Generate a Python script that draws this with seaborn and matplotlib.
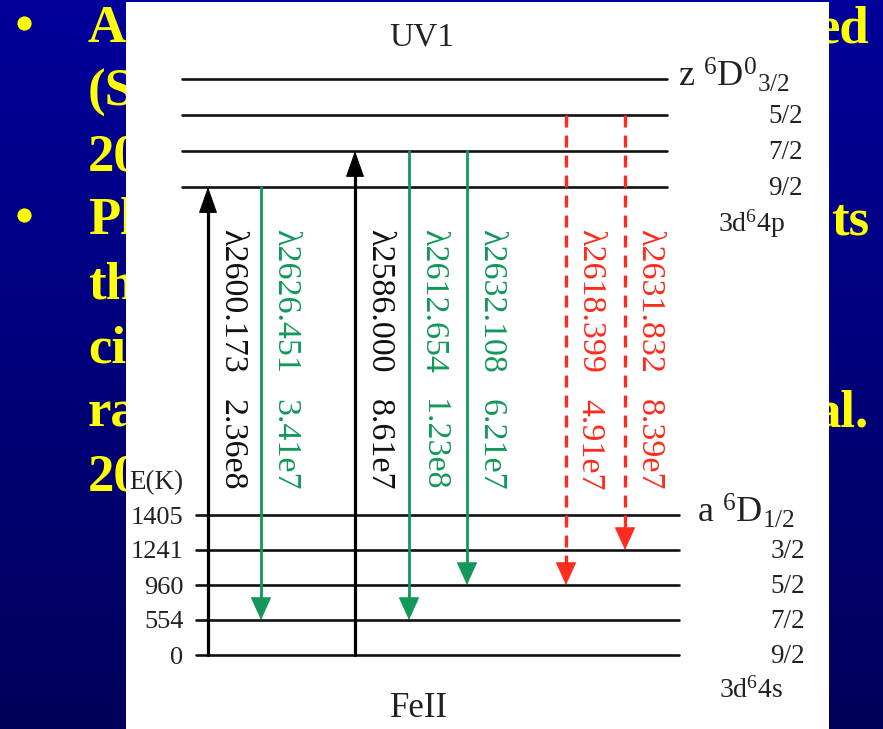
import numpy as np
import pandas as pd
import matplotlib
matplotlib.use("Agg")
import matplotlib.pyplot as plt
import matplotlib.transforms as mtransforms
from matplotlib.patches import Rectangle
import seaborn as sns

# ---- Fe II UV1 multiplet: levels ----
lower_J = ["9/2", "7/2", "5/2", "3/2", "1/2"]          # a 6D (3d6 4s)
lower_E = ["0", "554", "960", "1241", "1405"]           # energy in K
upper_J = ["9/2", "7/2", "5/2", "3/2"]                 # z 6D0 (3d6 4p)

# ---- transitions ----
wavelengths = ["2600.173", "2626.451", "2586.000", "2612.654",
               "2632.108", "2618.399", "2631.832"]
a_values = ["2.36e8", "3.41e7", "8.61e7", "1.23e8", "6.21e7", "4.91e7", "8.39e7"]
trans_lower = ["9/2", "7/2", "9/2", "7/2", "5/2", "5/2", "3/2"]
trans_upper = ["9/2", "9/2", "7/2", "7/2", "7/2", "5/2", "5/2"]
trans_kind = ["resonance", "fluorescent", "resonance", "fluorescent",
              "fluorescent", "fine-structure", "fine-structure"]

# ---- slide text around the figure ----
slide_left = ["A", "(S", "20", "Pl", "th", "ci", "ra", "20"]
slide_right = ["ed", "", "", "ts", "", "", "al.", ""]
slide_bullet = [True, False, False, True, False, False, False, False]

# ---- layout (pixels) ----
W, H = 883, 729
PX_PER_SLOT = 35.0
Y0_PX = 655.0                      # pixel row of the ground level
lower_slot = [0, 1, 2, 3, 4]
upper_slot = [13.37, 14.4, 15.43, 16.46]
lower_x = (196, 679)
upper_x = (182, 667)
arrow_x = [208, 261, 355, 409, 467, 566, 625]
label_dx = 24
label_top_px = 229
value_top_px = 399

kind_color = {"resonance": "#000000", "fluorescent": "#13985a", "fine-structure": "#ff2b1c"}
kind_lw = {"resonance": 2.3, "fluorescent": 2.0, "fine-structure": 2.4}
kind_dash = {"resonance": "", "fluorescent": "", "fine-structure": (3.6, 2.4)}
kind_head = {"resonance": (0.85, 0.3), "fluorescent": (0.75, 0.34), "fine-structure": (0.75, 0.34)}

sns.set_theme(style="white")
plt.rcParams["font.family"] = ["Liberation Serif", "DejaVu Serif"]
plt.rcParams["mathtext.fontset"] = "custom"
plt.rcParams["mathtext.rm"] = "Liberation Serif"
plt.rcParams["mathtext.it"] = "Liberation Serif:italic"
plt.rcParams["mathtext.bf"] = "Liberation Serif:bold"

fig = plt.figure(figsize=(W / 100, H / 100), dpi=100)

# ---- slide background, text and white panel ----
bg = fig.add_axes([0, 0, 1, 1])
bg.set_xlim(0, W)
bg.set_ylim(H, 0)
bg.axis("off")
top = np.array([0, 0, 155]) / 255
bot = np.array([0, 0, 90]) / 255
t = np.linspace(0, 1, 256)[:, None]
grad = (top[None, :] * (1 - t) + bot[None, :] * t)[:, None, :]
bg.imshow(grad, extent=[0, W, H, 0], aspect="auto", zorder=0, interpolation="bilinear")

for i, (ltxt, rtxt, bul) in enumerate(zip(slide_left, slide_right, slide_bullet)):
    base = 42 + i * 64
    bg.text(88, base, ltxt, color="#ffff00", fontsize=38, fontweight="bold",
            va="baseline", ha="left", zorder=2)
    if rtxt:
        bg.text(869, base, rtxt, color="#ffff00", fontsize=38, fontweight="bold",
                va="baseline", ha="right", zorder=2)
    if bul:
        bg.scatter([24], [base - 19], s=105, color="#ffff00", zorder=2, linewidths=0)

bg.add_patch(Rectangle((126, 2), 703, H, facecolor="white", edgecolor="none", zorder=5))

# ---- energy-level diagram ----
ax = fig.add_axes([0, 0, 1, 1])
ax.patch.set_alpha(0)
ax.set_xlim(0, W)
ax.set_ylim((Y0_PX - H) / PX_PER_SLOT, Y0_PX / PX_PER_SLOT)
for s in ax.spines.values():
    s.set_visible(False)
ax.set_xticks([])

lo_pos = dict(zip(lower_J, lower_slot))
up_pos = dict(zip(upper_J, upper_slot))

rows = []
for j, y in lo_pos.items():
    rows += [dict(x=lower_x[0], y=y, name="a" + j), dict(x=lower_x[1], y=y, name="a" + j)]
for j, y in up_pos.items():
    rows += [dict(x=upper_x[0], y=y, name="z" + j), dict(x=upper_x[1], y=y, name="z" + j)]
levels = pd.DataFrame(rows)
sns.lineplot(data=levels, x="x", y="y", units="name", estimator=None, sort=False,
             color="#111111", linewidth=1.9, legend=False, ax=ax)

# energy tick labels on the left
ax.spines["left"].set_position(("data", 189))
ax.set_yticks(lower_slot, labels=lower_E)
ax.tick_params(axis="y", length=0, pad=4, labelsize=19, labelcolor="#222222")
ax.set_xlabel("")
ax.set_ylabel("")

# transitions: shafts with seaborn, heads with annotate
head_len_slot = 0.45
trows = []
for k in range(len(wavelengths)):
    ylo, yup = lo_pos[trans_lower[k]], up_pos[trans_upper[k]]
    up = trans_kind[k] == "resonance"
    start, tip = (ylo, yup) if up else (yup, ylo)
    shaft_end = tip - head_len_slot if up else tip + head_len_slot
    trows += [dict(x=arrow_x[k], y=start, id=k, kind=trans_kind[k]),
              dict(x=arrow_x[k], y=shaft_end, id=k, kind=trans_kind[k])]
trans = pd.DataFrame(trows)
for kind in kind_color:
    sub = trans[trans["kind"] == kind]
    sns.lineplot(data=sub, x="x", y="y", units="id", estimator=None, sort=False,
                 color=kind_color[kind], linewidth=kind_lw[kind],
                 legend=False, ax=ax)
    if kind_dash[kind]:
        for ln in ax.lines[-sub["id"].nunique():]:
            ln.set_dashes(kind_dash[kind])
ax.set_xlabel("")
ax.set_ylabel("")

for k in range(len(wavelengths)):
    ylo, yup = lo_pos[trans_lower[k]], up_pos[trans_upper[k]]
    kind = trans_kind[k]
    up = kind == "resonance"
    tip = yup if up else ylo
    tail = tip - 0.8 if up else tip + 0.8
    hl, hw = kind_head[kind]
    ax.annotate("", xy=(arrow_x[k], tip), xytext=(arrow_x[k], tail),
                arrowprops=dict(arrowstyle=f"-|>,head_length={hl},head_width={hw}",
                                mutation_scale=20, color=kind_color[kind], lw=0.8,
                                shrinkA=0, shrinkB=0))
    col = kind_color[kind] if kind != "resonance" else "#111111"
    ax.text(arrow_x[k] + label_dx, (Y0_PX - label_top_px) / PX_PER_SLOT,
            "\u03bb" + wavelengths[k], rotation=270, rotation_mode="anchor",
            ha="left", va="center", fontsize=24.5, color=col)
    ax.text(arrow_x[k] + label_dx, (Y0_PX - value_top_px) / PX_PER_SLOT,
            a_values[k], rotation=270, rotation_mode="anchor",
            ha="left", va="center", fontsize=24.5, color=col)

# level labels on the right
down8 = mtransforms.offset_copy(ax.transData, fig=fig, x=0, y=-8, units="dots")
for j, y in up_pos.items():
    if j == "3/2":
        ax.text(678, y, r"z $^{6}$D$^{0}$$_{3/2}$", transform=down8, ha="left",
                va="baseline", fontsize=26, color="#222222")
    else:
        ax.text(803, y, j, transform=down8, ha="right", va="baseline",
                fontsize=19.5, color="#222222")
for j, y in lo_pos.items():
    if j == "1/2":
        ax.text(697, y, r"a $^{6}$D$_{1/2}$", transform=down8, ha="left",
                va="baseline", fontsize=26, color="#222222")
    else:
        ax.text(805, y, j, transform=down8, ha="right", va="baseline",
                fontsize=19.5, color="#222222")

txt = dict(color="#222222")
bg.text(751, 232, r"3d$^{6}$4p", ha="center", va="baseline", fontsize=20, zorder=6, **txt)
bg.text(751, 698, r"3d$^{6}$4s", ha="center", va="baseline", fontsize=20, zorder=6, **txt)
bg.text(156, 489, "E(K)", ha="center", va="baseline", fontsize=19.5, zorder=6, **txt)
bg.text(422, 45, "UV1", ha="center", va="baseline", fontsize=24, zorder=6, **txt)
bg.text(419, 717, "FeII", ha="center", va="baseline", fontsize=25, zorder=6, **txt)

fig.savefig("out.png", dpi=100)
